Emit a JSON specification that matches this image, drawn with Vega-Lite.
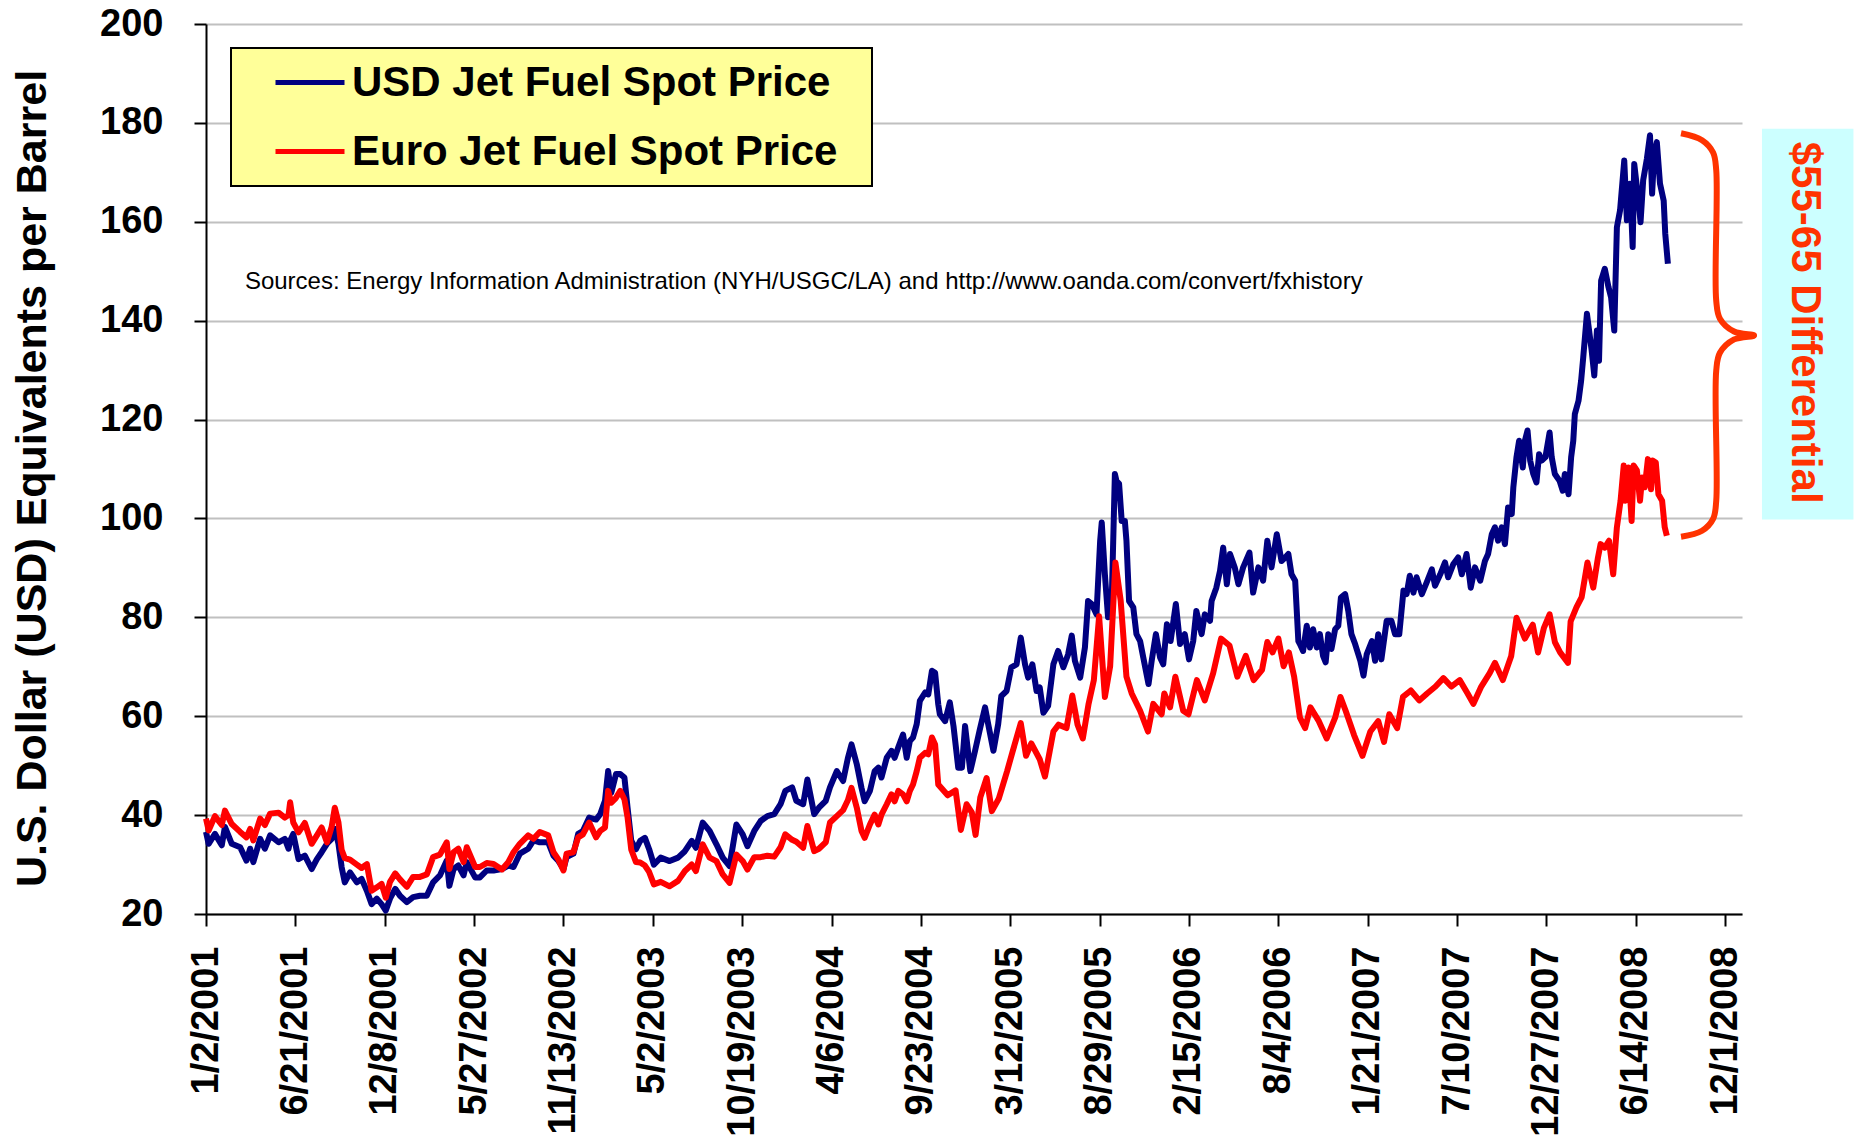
{
"$schema": "https://vega.github.io/schema/vega-lite/v6.json",
"width": 1536, "height": 890,
"autosize": {"type": "none"},
"padding": {"left": 206, "top": 24, "right": 116, "bottom": 225},
"background": "white",
"config": {
 "view": {"stroke": null},
 "font": "Liberation Sans",
 "legend": {"orient": "none", "legendX": 25, "legendY": 24, "direction": "vertical",
  "fillColor": "#ffff99", "strokeColor": "black", "strokeWidth": 2, "padding": 0, "clipHeight": 69,
  "symbolType": "stroke", "symbolSize": 4761, "symbolStrokeWidth": 5, "symbolOffset": 42,
  "labelFont": "Liberation Sans", "labelFontSize": 42, "labelFontWeight": "bold",
  "labelColor": "black", "labelOffset": 5, "rowPadding": 0, "labelLimit": 0,
  "titleOrient": "right", "titlePadding": 35, "titleFontSize": 1, "titleColor": "#ffff99"}
},
"datasets": {
"usd": [
{"date":"2001-01-02","price":36.6},{"date":"2001-01-07","price":34.2},{"date":"2001-01-19","price":36.2},{"date":"2001-02-01","price":33.9},{"date":"2001-02-07","price":37.6},{"date":"2001-02-20","price":34.2},{"date":"2001-03-08","price":33.5},{"date":"2001-03-20","price":30.8},{"date":"2001-03-27","price":33.2},{"date":"2001-04-02","price":30.5},{"date":"2001-04-15","price":35.2},{"date":"2001-04-24","price":33.2},{"date":"2001-05-04","price":35.9},{"date":"2001-05-20","price":34.5},{"date":"2001-06-01","price":35.2},{"date":"2001-06-08","price":33.2},{"date":"2001-06-11","price":34.8},{"date":"2001-06-17","price":36.2},{"date":"2001-06-27","price":31.1},{"date":"2001-07-09","price":31.8},{"date":"2001-07-22","price":29.1},{"date":"2001-08-01","price":31.1},{"date":"2001-08-10","price":32.5},{"date":"2001-08-20","price":34.2},{"date":"2001-08-29","price":35.2},{"date":"2001-09-04","price":37.2},{"date":"2001-09-11","price":34.2},{"date":"2001-09-17","price":29.5},{"date":"2001-09-23","price":26.4},{"date":"2001-10-03","price":28.4},{"date":"2001-10-16","price":26.4},{"date":"2001-10-25","price":27.1},{"date":"2001-11-04","price":24.7},{"date":"2001-11-13","price":22.0},{"date":"2001-11-23","price":23.1},{"date":"2001-12-02","price":22.0},{"date":"2001-12-10","price":20.7},{"date":"2001-12-18","price":23.1},{"date":"2001-12-28","price":25.1},
{"date":"2002-01-06","price":23.7},{"date":"2002-01-19","price":22.4},{"date":"2002-01-31","price":23.4},{"date":"2002-02-13","price":23.7},{"date":"2002-02-26","price":23.7},{"date":"2002-03-10","price":26.4},{"date":"2002-03-23","price":27.8},{"date":"2002-04-05","price":30.8},{"date":"2002-04-10","price":25.7},{"date":"2002-04-18","price":29.1},{"date":"2002-04-27","price":29.8},{"date":"2002-05-07","price":27.8},{"date":"2002-05-13","price":30.5},{"date":"2002-05-29","price":27.4},{"date":"2002-06-07","price":27.4},{"date":"2002-06-20","price":28.8},{"date":"2002-07-03","price":28.8},{"date":"2002-07-19","price":29.1},{"date":"2002-07-31","price":29.8},{"date":"2002-08-10","price":29.5},{"date":"2002-08-22","price":32.2},{"date":"2002-09-07","price":33.2},{"date":"2002-09-17","price":34.9},{"date":"2002-09-29","price":34.5},{"date":"2002-10-15","price":34.5},{"date":"2002-10-25","price":31.8},{"date":"2002-11-03","price":30.8},{"date":"2002-11-13","price":29.1},{"date":"2002-11-19","price":31.5},{"date":"2002-12-02","price":32.2},{"date":"2002-12-11","price":36.2},{"date":"2002-12-20","price":36.8},
{"date":"2003-01-01","price":39.5},{"date":"2003-01-14","price":39.1},{"date":"2003-01-22","price":40.2},{"date":"2003-01-31","price":42.9},{"date":"2003-02-06","price":48.9},{"date":"2003-02-12","price":44.5},{"date":"2003-02-21","price":48.3},{"date":"2003-03-01","price":48.3},{"date":"2003-03-09","price":47.6},{"date":"2003-03-15","price":41.5},{"date":"2003-03-22","price":34.8},{"date":"2003-03-31","price":33.1},{"date":"2003-04-08","price":34.8},{"date":"2003-04-17","price":35.4},{"date":"2003-04-25","price":33.1},{"date":"2003-05-04","price":30.0},{"date":"2003-05-17","price":31.4},{"date":"2003-06-03","price":30.7},{"date":"2003-06-19","price":31.4},{"date":"2003-07-02","price":32.7},{"date":"2003-07-15","price":34.8},{"date":"2003-07-23","price":33.4},{"date":"2003-08-05","price":38.5},{"date":"2003-08-18","price":36.8},{"date":"2003-08-31","price":34.1},{"date":"2003-09-12","price":31.4},{"date":"2003-09-25","price":29.7},{"date":"2003-10-08","price":38.1},{"date":"2003-10-20","price":36.1},{"date":"2003-10-29","price":33.7},{"date":"2003-11-11","price":36.8},{"date":"2003-11-23","price":38.8},{"date":"2003-12-06","price":39.8},{"date":"2003-12-19","price":40.2},{"date":"2003-12-31","price":42.2},
{"date":"2004-01-09","price":44.9},{"date":"2004-01-22","price":45.6},{"date":"2004-01-30","price":42.9},{"date":"2004-02-12","price":42.2},{"date":"2004-02-20","price":47.2},{"date":"2004-03-04","price":40.2},{"date":"2004-03-13","price":41.5},{"date":"2004-03-26","price":42.9},{"date":"2004-04-03","price":45.6},{"date":"2004-04-16","price":48.9},{"date":"2004-04-28","price":46.9},{"date":"2004-05-07","price":51.5},{"date":"2004-05-14","price":54.3},{"date":"2004-05-24","price":50.3},{"date":"2004-06-02","price":45.5},{"date":"2004-06-08","price":42.8},{"date":"2004-06-18","price":44.9},{"date":"2004-06-27","price":48.9},{"date":"2004-07-04","price":49.6},{"date":"2004-07-10","price":47.6},{"date":"2004-07-20","price":51.6},{"date":"2004-07-29","price":53.0},{"date":"2004-08-04","price":51.6},{"date":"2004-08-11","price":53.7},{"date":"2004-08-20","price":56.3},{"date":"2004-08-27","price":51.6},{"date":"2004-09-02","price":55.0},{"date":"2004-09-08","price":55.7},{"date":"2004-09-15","price":58.4},{"date":"2004-09-21","price":63.1},{"date":"2004-10-01","price":64.8},{"date":"2004-10-07","price":64.4},{"date":"2004-10-14","price":69.2},{"date":"2004-10-20","price":68.8},{"date":"2004-10-26","price":62.4},{"date":"2004-10-29","price":60.4},{"date":"2004-11-08","price":59.0},{"date":"2004-11-17","price":62.8},{"date":"2004-11-24","price":58.0},{"date":"2004-12-03","price":49.6},{"date":"2004-12-10","price":49.6},{"date":"2004-12-16","price":58.0},{"date":"2004-12-26","price":48.9},
{"date":"2005-01-04","price":53.0},{"date":"2005-01-13","price":57.3},{"date":"2005-01-23","price":61.8},{"date":"2005-01-29","price":58.4},{"date":"2005-02-08","price":53.0},{"date":"2005-02-17","price":58.4},{"date":"2005-02-23","price":64.1},{"date":"2005-03-05","price":65.1},{"date":"2005-03-14","price":69.9},{"date":"2005-03-24","price":70.5},{"date":"2005-04-01","price":75.9},{"date":"2005-04-09","price":70.5},{"date":"2005-04-15","price":67.8},{"date":"2005-04-23","price":70.5},{"date":"2005-05-01","price":65.1},{"date":"2005-05-07","price":65.8},{"date":"2005-05-14","price":60.7},{"date":"2005-05-23","price":62.1},{"date":"2005-06-02","price":70.5},{"date":"2005-06-11","price":73.2},{"date":"2005-06-21","price":69.9},{"date":"2005-06-30","price":72.5},{"date":"2005-07-07","price":76.3},{"date":"2005-07-13","price":71.2},{"date":"2005-07-23","price":67.8},{"date":"2005-08-01","price":73.9},{"date":"2005-08-07","price":83.3},{"date":"2005-08-14","price":82.7},{"date":"2005-08-23","price":80.6},{"date":"2005-08-30","price":95.5},{"date":"2005-09-02","price":99.2},{"date":"2005-09-08","price":88.7},{"date":"2005-09-14","price":80.0},{"date":"2005-09-21","price":83.3},{"date":"2005-09-27","price":109.0},{"date":"2005-09-30","price":107.6},{"date":"2005-10-05","price":107.0},{"date":"2005-10-10","price":99.5},{"date":"2005-10-16","price":99.5},{"date":"2005-10-19","price":95.5},{"date":"2005-10-24","price":83.3},{"date":"2005-11-01","price":82.0},{"date":"2005-11-07","price":76.6},{"date":"2005-11-14","price":75.2},{"date":"2005-11-20","price":71.9},{"date":"2005-11-30","price":66.5},{"date":"2005-12-06","price":71.2},{"date":"2005-12-14","price":76.6},{"date":"2005-12-22","price":71.9},{"date":"2005-12-28","price":70.5},
{"date":"2006-01-04","price":78.6},{"date":"2006-01-11","price":75.2},{"date":"2006-01-21","price":82.7},{"date":"2006-01-29","price":74.6},{"date":"2006-02-07","price":76.6},{"date":"2006-02-15","price":71.5},{"date":"2006-02-23","price":75.2},{"date":"2006-03-01","price":81.3},{"date":"2006-03-11","price":76.6},{"date":"2006-03-17","price":80.6},{"date":"2006-03-27","price":79.3},{"date":"2006-03-30","price":83.3},{"date":"2006-04-08","price":86.0},{"date":"2006-04-15","price":89.4},{"date":"2006-04-21","price":94.1},{"date":"2006-04-28","price":86.7},{"date":"2006-05-04","price":92.8},{"date":"2006-05-13","price":90.1},{"date":"2006-05-20","price":86.7},{"date":"2006-05-29","price":90.1},{"date":"2006-06-10","price":93.1},{"date":"2006-06-17","price":85.0},{"date":"2006-06-27","price":90.1},{"date":"2006-07-06","price":87.4},{"date":"2006-07-14","price":95.5},{"date":"2006-07-22","price":90.1},{"date":"2006-08-01","price":96.8},{"date":"2006-08-10","price":91.4},{"date":"2006-08-17","price":92.1},{"date":"2006-08-23","price":92.8},{"date":"2006-08-29","price":88.7},{"date":"2006-09-05","price":87.4},{"date":"2006-09-11","price":75.2},{"date":"2006-09-14","price":74.6},{"date":"2006-09-20","price":73.2},{"date":"2006-09-27","price":78.3},{"date":"2006-10-03","price":73.9},{"date":"2006-10-09","price":77.6},{"date":"2006-10-16","price":73.9},{"date":"2006-10-22","price":76.6},{"date":"2006-10-28","price":72.2},{"date":"2006-11-02","price":70.9},{"date":"2006-11-07","price":76.6},{"date":"2006-11-13","price":73.6},{"date":"2006-11-20","price":77.6},{"date":"2006-11-26","price":78.3},{"date":"2006-12-01","price":84.0},{"date":"2006-12-09","price":84.7},{"date":"2006-12-15","price":81.3},{"date":"2006-12-21","price":76.6},{"date":"2006-12-28","price":74.6},
{"date":"2007-01-07","price":71.2},{"date":"2007-01-13","price":68.2},{"date":"2007-01-19","price":72.5},{"date":"2007-01-29","price":75.2},{"date":"2007-02-04","price":71.2},{"date":"2007-02-10","price":76.6},{"date":"2007-02-16","price":71.5},{"date":"2007-02-26","price":79.3},{"date":"2007-03-07","price":79.3},{"date":"2007-03-14","price":76.6},{"date":"2007-03-22","price":76.6},{"date":"2007-03-30","price":85.4},{"date":"2007-04-05","price":84.7},{"date":"2007-04-11","price":88.4},{"date":"2007-04-18","price":85.0},{"date":"2007-04-24","price":88.1},{"date":"2007-05-04","price":84.7},{"date":"2007-05-13","price":87.0},{"date":"2007-05-23","price":89.7},{"date":"2007-05-29","price":86.4},{"date":"2007-06-08","price":88.7},{"date":"2007-06-17","price":91.1},{"date":"2007-06-23","price":88.1},{"date":"2007-07-03","price":90.8},{"date":"2007-07-12","price":92.1},{"date":"2007-07-19","price":88.7},{"date":"2007-07-28","price":92.8},{"date":"2007-08-05","price":86.0},{"date":"2007-08-13","price":90.1},{"date":"2007-08-23","price":87.4},{"date":"2007-09-01","price":91.4},{"date":"2007-09-07","price":92.8},{"date":"2007-09-14","price":96.8},{"date":"2007-09-20","price":98.2},{"date":"2007-09-26","price":95.5},{"date":"2007-10-03","price":98.2},{"date":"2007-10-09","price":94.8},{"date":"2007-10-15","price":102.2},{"date":"2007-10-22","price":100.9},{"date":"2007-10-25","price":106.3},{"date":"2007-10-31","price":112.4},{"date":"2007-11-05","price":115.7},{"date":"2007-11-12","price":110.3},{"date":"2007-11-16","price":115.7},{"date":"2007-11-21","price":117.8},{"date":"2007-11-26","price":111.7},{"date":"2007-12-02","price":109.0},{"date":"2007-12-08","price":107.3},{"date":"2007-12-13","price":113.0},{"date":"2007-12-18","price":111.7},{"date":"2007-12-25","price":112.4},
{"date":"2008-01-02","price":117.4},{"date":"2008-01-06","price":112.4},{"date":"2008-01-12","price":109.0},{"date":"2008-01-21","price":107.6},{"date":"2008-01-27","price":105.6},{"date":"2008-01-31","price":109.0},{"date":"2008-02-07","price":104.9},{"date":"2008-02-12","price":112.4},{"date":"2008-02-16","price":115.7},{"date":"2008-02-19","price":121.1},{"date":"2008-02-26","price":123.8},{"date":"2008-03-02","price":127.9},{"date":"2008-03-06","price":132.6},{"date":"2008-03-13","price":141.4},{"date":"2008-03-22","price":134.0},{"date":"2008-03-27","price":128.9},{"date":"2008-04-01","price":138.0},{"date":"2008-04-05","price":131.9},{"date":"2008-04-09","price":148.1},{"date":"2008-04-16","price":150.5},{"date":"2008-04-23","price":146.8},{"date":"2008-04-28","price":144.7},{"date":"2008-05-04","price":138.0},{"date":"2008-05-09","price":158.9},{"date":"2008-05-15","price":162.3},{"date":"2008-05-23","price":172.4},{"date":"2008-05-28","price":160.3},{"date":"2008-06-03","price":167.7},{"date":"2008-06-08","price":154.9},{"date":"2008-06-11","price":171.7},{"date":"2008-06-19","price":164.3},{"date":"2008-06-23","price":159.9},{"date":"2008-06-28","price":168.4},{"date":"2008-07-05","price":172.7},{"date":"2008-07-11","price":177.5},{"date":"2008-07-15","price":165.7},{"date":"2008-07-19","price":173.8},{"date":"2008-07-24","price":176.1},{"date":"2008-07-30","price":167.7},{"date":"2008-08-06","price":164.3},{"date":"2008-08-09","price":157.6},{"date":"2008-08-14","price":151.5}
],
"euro": [
{"date":"2001-01-02","price":39.3},{"date":"2001-01-07","price":36.9},{"date":"2001-01-19","price":39.8},{"date":"2001-02-01","price":38.0},{"date":"2001-02-07","price":40.9},{"date":"2001-02-20","price":38.2},{"date":"2001-03-08","price":36.6},{"date":"2001-03-20","price":35.5},{"date":"2001-03-27","price":37.2},{"date":"2001-04-02","price":34.9},{"date":"2001-04-15","price":39.3},{"date":"2001-04-24","price":38.0},{"date":"2001-05-04","price":40.3},{"date":"2001-05-20","price":40.5},{"date":"2001-06-01","price":39.5},{"date":"2001-06-08","price":40.0},{"date":"2001-06-11","price":42.6},{"date":"2001-06-17","price":38.5},{"date":"2001-06-27","price":36.5},{"date":"2001-07-09","price":38.4},{"date":"2001-07-22","price":34.2},{"date":"2001-08-01","price":35.9},{"date":"2001-08-10","price":37.5},{"date":"2001-08-20","price":34.5},{"date":"2001-08-29","price":37.6},{"date":"2001-09-04","price":41.5},{"date":"2001-09-11","price":38.5},{"date":"2001-09-17","price":33.0},{"date":"2001-09-23","price":31.3},{"date":"2001-10-03","price":31.0},{"date":"2001-10-16","price":30.0},{"date":"2001-10-25","price":29.3},{"date":"2001-11-04","price":30.1},{"date":"2001-11-13","price":24.7},{"date":"2001-11-23","price":25.4},{"date":"2001-12-02","price":26.1},{"date":"2001-12-10","price":23.3},{"date":"2001-12-18","price":26.5},{"date":"2001-12-28","price":28.2},
{"date":"2002-01-06","price":27.0},{"date":"2002-01-19","price":25.5},{"date":"2002-01-31","price":27.5},{"date":"2002-02-13","price":27.5},{"date":"2002-02-26","price":28.0},{"date":"2002-03-10","price":31.5},{"date":"2002-03-23","price":32.0},{"date":"2002-04-05","price":34.5},{"date":"2002-04-10","price":29.1},{"date":"2002-04-18","price":32.5},{"date":"2002-04-27","price":33.2},{"date":"2002-05-07","price":30.5},{"date":"2002-05-13","price":33.5},{"date":"2002-05-29","price":29.5},{"date":"2002-06-07","price":29.5},{"date":"2002-06-20","price":30.3},{"date":"2002-07-03","price":30.1},{"date":"2002-07-19","price":29.0},{"date":"2002-07-31","price":30.5},{"date":"2002-08-10","price":32.5},{"date":"2002-08-22","price":34.2},{"date":"2002-09-07","price":35.9},{"date":"2002-09-17","price":35.2},{"date":"2002-09-29","price":36.6},{"date":"2002-10-15","price":35.9},{"date":"2002-10-25","price":32.5},{"date":"2002-11-03","price":31.1},{"date":"2002-11-13","price":28.8},{"date":"2002-11-19","price":32.2},{"date":"2002-12-02","price":32.5},{"date":"2002-12-11","price":35.5},{"date":"2002-12-20","price":36.1},
{"date":"2003-01-01","price":38.5},{"date":"2003-01-14","price":35.5},{"date":"2003-01-22","price":36.8},{"date":"2003-01-31","price":37.5},{"date":"2003-02-06","price":44.9},{"date":"2003-02-12","price":42.5},{"date":"2003-02-21","price":43.5},{"date":"2003-03-01","price":44.9},{"date":"2003-03-09","price":43.2},{"date":"2003-03-15","price":39.5},{"date":"2003-03-22","price":33.0},{"date":"2003-03-31","price":30.5},{"date":"2003-04-08","price":30.4},{"date":"2003-04-17","price":29.8},{"date":"2003-04-25","price":28.5},{"date":"2003-05-04","price":26.0},{"date":"2003-05-17","price":26.5},{"date":"2003-06-03","price":25.6},{"date":"2003-06-19","price":26.7},{"date":"2003-07-02","price":28.7},{"date":"2003-07-15","price":30.0},{"date":"2003-07-23","price":28.7},{"date":"2003-08-05","price":34.1},{"date":"2003-08-18","price":31.4},{"date":"2003-08-31","price":30.7},{"date":"2003-09-12","price":28.0},{"date":"2003-09-25","price":26.3},{"date":"2003-10-08","price":32.0},{"date":"2003-10-20","price":30.7},{"date":"2003-10-29","price":29.0},{"date":"2003-11-11","price":31.5},{"date":"2003-11-23","price":31.5},{"date":"2003-12-06","price":31.8},{"date":"2003-12-19","price":31.6},{"date":"2003-12-31","price":33.5},
{"date":"2004-01-09","price":36.1},{"date":"2004-01-22","price":35.0},{"date":"2004-01-30","price":34.6},{"date":"2004-02-12","price":33.4},{"date":"2004-02-20","price":37.8},{"date":"2004-03-04","price":32.7},{"date":"2004-03-13","price":33.2},{"date":"2004-03-26","price":34.5},{"date":"2004-04-03","price":38.5},{"date":"2004-04-16","price":39.8},{"date":"2004-04-28","price":41.0},{"date":"2004-05-07","price":43.0},{"date":"2004-05-14","price":45.5},{"date":"2004-05-24","price":41.5},{"date":"2004-06-02","price":36.8},{"date":"2004-06-08","price":35.4},{"date":"2004-06-18","price":38.1},{"date":"2004-06-27","price":40.1},{"date":"2004-07-04","price":38.1},{"date":"2004-07-10","price":40.1},{"date":"2004-07-20","price":42.2},{"date":"2004-07-29","price":44.2},{"date":"2004-08-04","price":42.8},{"date":"2004-08-11","price":44.9},{"date":"2004-08-20","price":44.2},{"date":"2004-08-27","price":42.8},{"date":"2004-09-02","price":44.9},{"date":"2004-09-08","price":46.2},{"date":"2004-09-15","price":48.9},{"date":"2004-09-21","price":51.6},{"date":"2004-10-01","price":52.6},{"date":"2004-10-07","price":52.3},{"date":"2004-10-14","price":55.7},{"date":"2004-10-20","price":54.3},{"date":"2004-10-26","price":46.2},{"date":"2004-11-13","price":44.0},{"date":"2004-11-28","price":45.0},{"date":"2004-12-08","price":37.0},{"date":"2004-12-19","price":42.2},{"date":"2004-12-29","price":40.5},
{"date":"2005-01-05","price":36.0},{"date":"2005-01-14","price":43.6},{"date":"2005-01-26","price":47.5},{"date":"2005-02-05","price":40.8},{"date":"2005-02-18","price":43.3},{"date":"2005-03-06","price":48.9},{"date":"2005-03-16","price":52.7},{"date":"2005-04-01","price":58.6},{"date":"2005-04-11","price":52.0},{"date":"2005-04-21","price":54.5},{"date":"2005-05-07","price":51.3},{"date":"2005-05-17","price":47.8},{"date":"2005-06-02","price":56.9},{"date":"2005-06-12","price":58.3},{"date":"2005-06-27","price":57.6},{"date":"2005-07-08","price":64.2},{"date":"2005-07-18","price":58.3},{"date":"2005-07-28","price":55.5},{"date":"2005-08-08","price":62.5},{"date":"2005-08-18","price":67.3},{"date":"2005-08-28","price":80.2},{"date":"2005-09-08","price":63.9},{"date":"2005-09-18","price":70.1},{"date":"2005-09-28","price":91.1},{"date":"2005-10-08","price":83.4},{"date":"2005-10-19","price":68.0},{"date":"2005-10-29","price":64.6},{"date":"2005-11-14","price":61.1},{"date":"2005-11-29","price":56.9},{"date":"2005-12-09","price":62.5},{"date":"2005-12-25","price":60.4},{"date":"2005-12-30","price":64.6},
{"date":"2006-01-10","price":61.8},{"date":"2006-01-20","price":68.0},{"date":"2006-02-04","price":61.1},{"date":"2006-02-14","price":60.4},{"date":"2006-03-02","price":67.3},{"date":"2006-03-17","price":63.2},{"date":"2006-04-02","price":68.7},{"date":"2006-04-17","price":75.7},{"date":"2006-05-03","price":74.3},{"date":"2006-05-18","price":68.0},{"date":"2006-06-03","price":72.2},{"date":"2006-06-18","price":67.3},{"date":"2006-07-04","price":69.4},{"date":"2006-07-14","price":75.0},{"date":"2006-07-24","price":72.9},{"date":"2006-08-04","price":75.7},{"date":"2006-08-14","price":70.1},{"date":"2006-08-24","price":72.9},{"date":"2006-09-03","price":68.0},{"date":"2006-09-14","price":59.7},{"date":"2006-09-24","price":57.6},{"date":"2006-10-04","price":61.8},{"date":"2006-10-20","price":59.0},{"date":"2006-11-04","price":55.5},{"date":"2006-11-20","price":59.7},{"date":"2006-11-30","price":63.9},{"date":"2006-12-10","price":61.1},{"date":"2006-12-26","price":56.2},
{"date":"2007-01-11","price":52.0},{"date":"2007-01-26","price":56.9},{"date":"2007-02-10","price":59.0},{"date":"2007-02-21","price":54.8},{"date":"2007-03-03","price":60.4},{"date":"2007-03-18","price":57.6},{"date":"2007-03-29","price":63.9},{"date":"2007-04-13","price":65.2},{"date":"2007-04-29","price":63.2},{"date":"2007-05-14","price":64.6},{"date":"2007-05-30","price":66.0},{"date":"2007-06-14","price":67.7},{"date":"2007-06-29","price":66.0},{"date":"2007-07-15","price":67.3},{"date":"2007-07-30","price":64.6},{"date":"2007-08-10","price":62.5},{"date":"2007-08-25","price":66.0},{"date":"2007-09-10","price":68.7},{"date":"2007-09-20","price":70.8},{"date":"2007-10-05","price":67.3},{"date":"2007-10-21","price":72.2},{"date":"2007-10-31","price":79.9},{"date":"2007-11-16","price":75.7},{"date":"2007-12-01","price":78.5},{"date":"2007-12-11","price":72.9},{"date":"2007-12-22","price":77.8},
{"date":"2008-01-02","price":80.6},{"date":"2008-01-12","price":75.0},{"date":"2008-01-22","price":72.9},{"date":"2008-02-06","price":70.8},{"date":"2008-02-11","price":79.2},{"date":"2008-02-22","price":82.0},{"date":"2008-03-03","price":84.1},{"date":"2008-03-14","price":91.1},{"date":"2008-03-25","price":86.0},{"date":"2008-04-03","price":92.1},{"date":"2008-04-08","price":94.8},{"date":"2008-04-16","price":94.1},{"date":"2008-04-24","price":95.5},{"date":"2008-05-02","price":88.7},{"date":"2008-05-09","price":98.2},{"date":"2008-05-16","price":103.6},{"date":"2008-05-22","price":110.7},{"date":"2008-05-25","price":103.6},{"date":"2008-05-31","price":110.3},{"date":"2008-06-06","price":99.5},{"date":"2008-06-10","price":110.7},{"date":"2008-06-16","price":109.7},{"date":"2008-06-22","price":103.6},{"date":"2008-06-26","price":108.3},{"date":"2008-07-01","price":106.3},{"date":"2008-07-07","price":112.0},{"date":"2008-07-13","price":105.9},{"date":"2008-07-16","price":111.7},{"date":"2008-07-22","price":111.3},{"date":"2008-07-27","price":104.9},{"date":"2008-08-03","price":103.6},{"date":"2008-08-08","price":98.2},{"date":"2008-08-12","price":96.5}
],
"brace": [
{"i":1,"date":"2008-09-08","price":177.9},{"i":2,"date":"2008-10-18","price":176.5},{"i":3,"date":"2008-11-08","price":174.0},{"i":4,"date":"2008-11-14","price":170.4},{"i":5,"date":"2008-11-14","price":144.0},{"i":6,"date":"2008-11-21","price":140.4},{"i":7,"date":"2008-12-18","price":137.8},{"i":8,"date":"2009-01-25","price":137.0},{"i":9,"date":"2008-12-18","price":136.2},{"i":10,"date":"2008-11-21","price":133.5},{"i":11,"date":"2008-11-14","price":129.9},{"i":12,"date":"2008-11-14","price":103.6},{"i":13,"date":"2008-11-08","price":99.9},{"i":14,"date":"2008-10-18","price":97.5},{"i":15,"date":"2008-09-08","price":96.3}
],
"box": [{"date":"2009-02-09","date2":"2009-08-02","price":178.8,"price2":99.8}],
"diff": [{"date":"2009-05-01","price":139.6,"label":"$55-65 Differential"}],
"source": [{"date":"2001-03-17","price":147.8,"label":"Sources: Energy Information Administration (NYH/USGC/LA) and http://www.oanda.com/convert/fxhistory"}],
"yticks": [{"price":40},{"price":60},{"price":80},{"price":100},{"price":120},{"price":140},{"price":160},{"price":180},{"price":200}]
},
"encoding": {
"x": {"field": "date", "type": "temporal",
 "scale": {"type": "utc", "domain": [{"year":2001,"month":1,"date":2,"utc":true},{"year":2009,"month":1,"date":2,"utc":true}]},
 "axis": {"values": [
  {"year":2001,"month":1,"date":2,"utc":true},{"year":2001,"month":6,"date":21,"utc":true},{"year":2001,"month":12,"date":8,"utc":true},
  {"year":2002,"month":5,"date":27,"utc":true},{"year":2002,"month":11,"date":13,"utc":true},{"year":2003,"month":5,"date":2,"utc":true},
  {"year":2003,"month":10,"date":19,"utc":true},{"year":2004,"month":4,"date":6,"utc":true},{"year":2004,"month":9,"date":23,"utc":true},
  {"year":2005,"month":3,"date":12,"utc":true},{"year":2005,"month":8,"date":29,"utc":true},{"year":2006,"month":2,"date":15,"utc":true},
  {"year":2006,"month":8,"date":4,"utc":true},{"year":2007,"month":1,"date":21,"utc":true},{"year":2007,"month":7,"date":10,"utc":true},
  {"year":2007,"month":12,"date":27,"utc":true},{"year":2008,"month":6,"date":14,"utc":true},{"year":2008,"month":12,"date":1,"utc":true}],
  "format": "%-m/%-d/%Y", "labelAngle": 270, "labelFontSize": 38, "labelFontWeight": "bold", "labelLimit": 0,
  "labelFont": "Liberation Sans", "labelColor": "black", "labelPadding": 20, "labelOverlap": false, "labelBound": false, "labelFlush": false,
  "tickSize": 12, "tickColor": "black", "tickWidth": 2, "domainColor": "black", "domainWidth": 2, "grid": false, "title": null}},
"y": {"field": "price", "type": "quantitative",
 "scale": {"domain": [20, 200], "nice": false, "zero": false},
 "axis": {"values": [20,40,60,80,100,120,140,160,180,200], "title": "U.S. Dollar (USD) Equivalents per Barrel",
  "titleFont": "Liberation Sans", "titleFontSize": 43, "titleFontWeight": "bold", "titleColor": "black",
  "titleX": -174, "titleY": 454, "titleAngle": 270, "titleAlign": "center", "titleBaseline": "middle",
  "labelFont": "Liberation Sans", "labelFontSize": 38, "labelFontWeight": "bold", "labelColor": "black", "labelPadding": 31,
  "tickSize": 12, "tickColor": "black", "tickWidth": 2, "domainColor": "black", "domainWidth": 2,
  "grid": true, "gridColor": "#c0c0c0", "gridWidth": 2}}
},
"layer": [
{
"data": {"name": "yticks"},
"mark": {"type": "rule", "color": "black", "strokeWidth": 2},
"encoding": {
"x": {"datum": {"year":2001,"month":1,"date":2,"utc":true}, "type": "temporal"},
"x2": {"datum": {"year":2001,"month":1,"date":25,"utc":true}}
}
},
{
"data": {"name": "usd"},
"mark": {"type": "line", "strokeWidth": 6, "strokeJoin": "round"},
"encoding": {
"color": {"datum": "USD Jet Fuel Spot Price", "type": "nominal",
 "scale": {"domain": ["USD Jet Fuel Spot Price", "Euro Jet Fuel Spot Price"], "range": ["#000080", "#ff0000"]},
 "legend": {"title": "\u00a0"}}
}
},
{
"data": {"name": "euro"},
"mark": {"type": "line", "strokeWidth": 6, "strokeJoin": "round"},
"encoding": {
"color": {"datum": "Euro Jet Fuel Spot Price", "type": "nominal"}
}
},
{
"data": {"name": "box"},
"mark": {"type": "rect", "fill": "#ccffff"},
"encoding": {
"x2": {"field": "date2"},
"y2": {"field": "price2"}
}
},
{
"data": {"name": "diff"},
"mark": {"type": "text", "angle": 90, "align": "center", "baseline": "middle", "font": "Liberation Sans", "fontSize": 42, "fontWeight": "bold", "color": "#ff3300"},
"encoding": {
"text": {"field": "label"}
}
},
{
"data": {"name": "brace"},
"mark": {"type": "line", "stroke": "#ff3300", "strokeWidth": 6, "interpolate": "catmull-rom"},
"encoding": {
"order": {"field": "i", "type": "quantitative"}
}
},
{
"data": {"name": "source"},
"mark": {"type": "text", "align": "left", "baseline": "middle", "font": "Liberation Sans", "fontSize": 24, "color": "black"},
"encoding": {
"text": {"field": "label"}
}
}
]
}
